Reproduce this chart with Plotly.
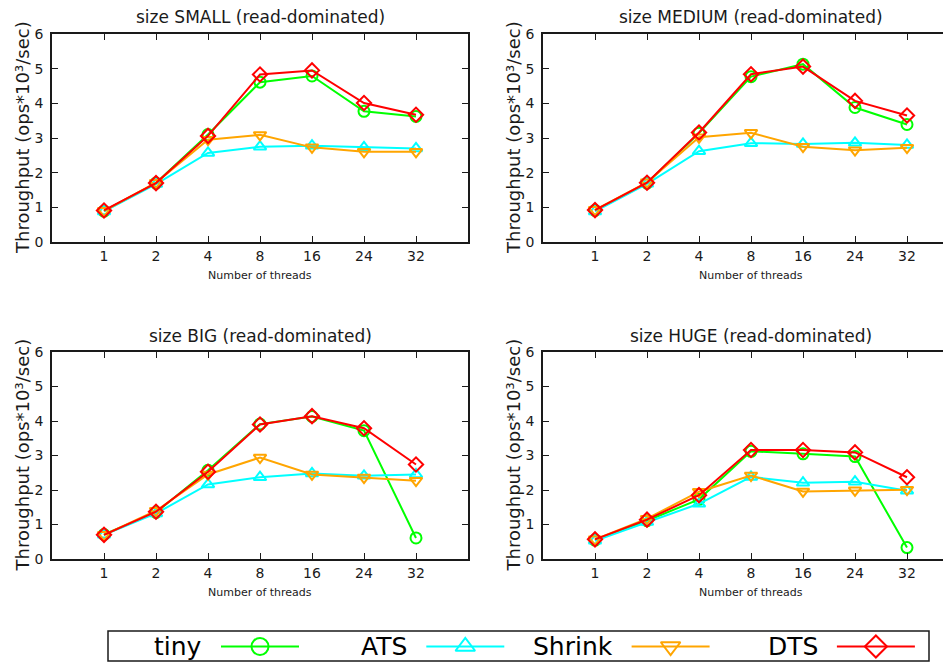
import plotly.graph_objects as go

# the page body keeps an 8px margin, so the figure is drawn 8px smaller
PAGE_W, PAGE_H = 951, 663
OFF = 8
W, H = PAGE_W - OFF, PAGE_H - OFF
FONT = "DejaVu Sans"
INK = "#1a1a1a"

threads = ["1", "2", "4", "8", "16", "24", "32"]
series_names = ["tiny", "ATS", "Shrink", "DTS"]
colors = ["#00ff00", "#00ffff", "#ffa500", "#ff0000"]
symbols = ["circle-open", "triangle-up-open", "triangle-down-open", "diamond-open"]

panel_titles = ["size SMALL (read-dominated)", "size MEDIUM (read-dominated)",
                "size BIG (read-dominated)", "size HUGE (read-dominated)"]

# throughput (ops*10^3/sec) per panel, per series
small_tiny = [0.89, 1.70, 3.10, 4.61, 4.79, 3.77, 3.62]
small_ats = [0.88, 1.67, 2.57, 2.75, 2.78, 2.73, 2.70]
small_shrink = [0.90, 1.71, 2.95, 3.09, 2.73, 2.60, 2.60]
small_dts = [0.91, 1.70, 3.06, 4.83, 4.95, 4.01, 3.67]

medium_tiny = [0.91, 1.70, 3.14, 4.77, 5.13, 3.88, 3.39]
medium_ats = [0.88, 1.68, 2.62, 2.85, 2.83, 2.86, 2.80]
medium_shrink = [0.93, 1.72, 3.02, 3.15, 2.75, 2.65, 2.72]
medium_dts = [0.92, 1.71, 3.16, 4.84, 5.06, 4.07, 3.65]

big_tiny = [0.71, 1.35, 2.57, 3.91, 4.13, 3.72, 0.61]
big_ats = [0.70, 1.32, 2.16, 2.37, 2.48, 2.41, 2.45]
big_shrink = [0.70, 1.40, 2.45, 2.94, 2.45, 2.36, 2.27]
big_dts = [0.70, 1.37, 2.53, 3.90, 4.14, 3.79, 2.74]

huge_tiny = [0.55, 1.11, 1.73, 3.12, 3.05, 2.97, 0.33]
huge_ats = [0.53, 1.07, 1.60, 2.38, 2.21, 2.24, 1.98]
huge_shrink = [0.57, 1.17, 1.95, 2.42, 1.96, 1.99, 2.01]
huge_dts = [0.57, 1.14, 1.85, 3.16, 3.16, 3.09, 2.37]

panels = [
    [small_tiny, small_ats, small_shrink, small_dts],
    [medium_tiny, medium_ats, medium_shrink, medium_dts],
    [big_tiny, big_ats, big_shrink, big_dts],
    [huge_tiny, huge_ats, huge_shrink, huge_dts],
]

def px(x):
    return (x - OFF) / W

def py(y):
    return 1 - (y - OFF) / H

# panel geometry (page pixels): left, right, top, bottom
UNIT = 52.0
geo = [
    (52, 468, 34, 242),
    (543, 951, 34, 242),
    (52, 468, 352, 559),
    (543, 951, 352, 559),
]

fig = go.Figure()
layout = {}
annotations = []

for i, (vals, title) in enumerate(zip(panels, panel_titles)):
    n = i + 1
    xa = "x" if n == 1 else f"x{n}"
    ya = "y" if n == 1 else f"y{n}"
    l, r, t, b = geo[i]
    for name, v, c, s in zip(series_names, vals, colors, symbols):
        fig.add_trace(go.Scatter(
            x=threads, y=v, name=name, mode="lines+markers",
            line=dict(color=c, width=2),
            marker=dict(symbol=s, size=11, color=c, line=dict(color=c, width=2)),
            xaxis=xa, yaxis=ya, showlegend=False, cliponaxis=False,
        ))
    right_clipped = r >= PAGE_W
    xr = [-1, -1 + (r - l) / UNIT]
    layout["xaxis" if n == 1 else f"xaxis{n}"] = dict(
        domain=[px(l), px(r)], anchor=ya, type="category", automargin=False,
        range=xr, showline=True, linecolor=INK, linewidth=1.5,
        mirror="allticks", ticks="inside", ticklen=6, tickcolor=INK, tickwidth=1.2,
        showgrid=False, zeroline=False,
        tickfont=dict(family=FONT, size=14, color=INK),
    )
    layout["yaxis" if n == 1 else f"yaxis{n}"] = dict(
        domain=[py(b), py(t)], anchor=xa, range=[0, 6], dtick=1, automargin=False,
        showline=True, linecolor=INK, linewidth=1.5,
        mirror=False if right_clipped else "allticks",
        ticks="inside", ticklen=6, tickcolor=INK, tickwidth=1.2,
        showgrid=False, zeroline=False, ticklabelstandoff=4,
        tickfont=dict(family=FONT, size=14, color=INK),
    )
    cx = l + UNIT * 4
    annotations.append(dict(
        text=title, x=px(cx), y=py(t - 16.5), xref="paper", yref="paper",
        xanchor="center", yanchor="middle", showarrow=False,
        font=dict(family=FONT, size=17, color=INK)))
    annotations.append(dict(
        text="Number of threads", x=px(cx), y=py(b + 33), xref="paper", yref="paper",
        xanchor="center", yanchor="middle", showarrow=False,
        font=dict(family=FONT, size=11, color=INK)))
    annotations.append(dict(
        text="Throughput (ops*10³/sec)", x=px(l - 30), y=py((t + b) / 2),
        xref="paper", yref="paper", xanchor="center", yanchor="middle",
        textangle=-90, showarrow=False,
        font=dict(family=FONT, size=18, color=INK)))

# legend box drawn below the panels (gnuplot style: text then sample)
LEG_L, LEG_R, LEG_T, LEG_B = 108, 929, 631, 661
LEG_TEXT_END = 204
LEG_STEP = 205.3
LEG_GAP = 17
LEG_LEN = 78
layout["xaxis5"] = dict(domain=[px(LEG_L), px(LEG_R)], range=[LEG_L, LEG_R],
                        visible=False, anchor="y5", fixedrange=True, automargin=False)
layout["yaxis5"] = dict(domain=[py(LEG_B), py(LEG_T)], range=[LEG_B, LEG_T],
                        visible=False, anchor="x5", fixedrange=True, automargin=False)
ymid = (LEG_T + LEG_B) / 2 + 0.5
for k, (name, c, s) in enumerate(zip(series_names, colors, symbols)):
    te = LEG_TEXT_END + k * LEG_STEP
    x0 = te + LEG_GAP
    x1 = x0 + LEG_LEN
    fig.add_trace(go.Scatter(
        x=[x0, (x0 + x1) / 2, x1], y=[ymid] * 3, mode="lines",
        line=dict(color=c, width=2), xaxis="x5", yaxis="y5",
        showlegend=False, hoverinfo="skip", cliponaxis=False))
    fig.add_trace(go.Scatter(
        x=[(x0 + x1) / 2], y=[ymid], mode="markers",
        marker=dict(symbol=s, size=17, color=c, line=dict(color=c, width=2)),
        xaxis="x5", yaxis="y5", showlegend=False, hoverinfo="skip", cliponaxis=False))
    annotations.append(dict(
        text=name, x=px(te), y=py(ymid), xref="paper", yref="paper",
        xanchor="right", yanchor="middle", showarrow=False,
        font=dict(family=FONT, size=25, color="#000")))

fig.update_layout(
    **layout,
    annotations=annotations,
    shapes=[dict(type="rect", xref="paper", yref="paper",
                 x0=px(LEG_L), x1=px(LEG_R), y0=py(LEG_B), y1=py(LEG_T),
                 line=dict(color=INK, width=1.5))],
    width=W, height=H, margin=dict(l=0, r=0, t=0, b=0, pad=0, autoexpand=False),
    paper_bgcolor="white", plot_bgcolor="white",
    font=dict(family=FONT, color=INK),
    showlegend=False,
)

fig.write_html("out.html", config={"displayModeBar": False})
